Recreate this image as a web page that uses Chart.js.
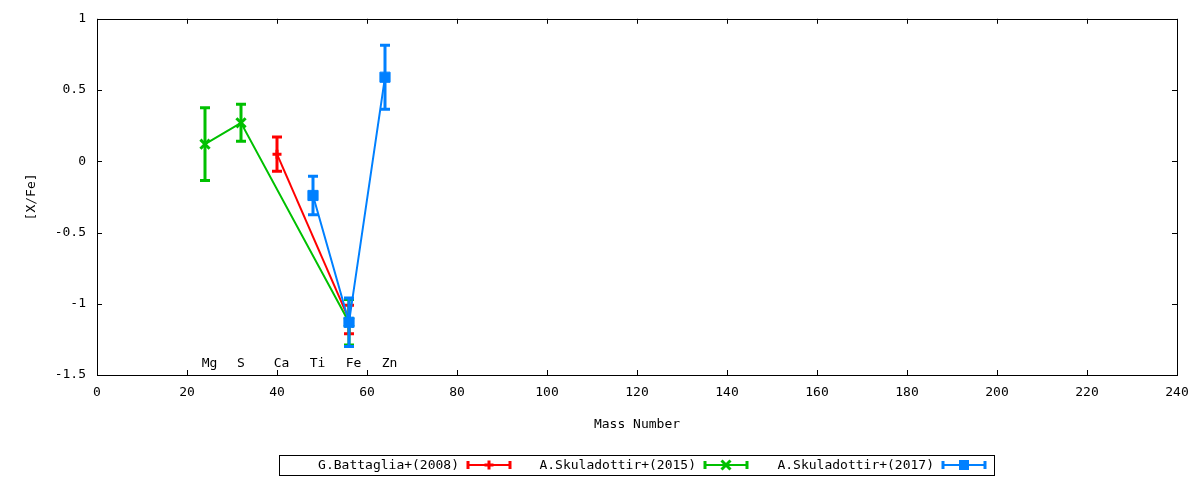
<!DOCTYPE html>
<html>
<head>
<meta charset="utf-8">
<script src="https://cdn.jsdelivr.net/npm/chart.js@4/dist/chart.umd.min.js"></script>
<style>
  html, body { margin: 0; padding: 0; background: #fff; }
  #wrap { width: 1200px; height: 480px; }
</style>
</head>
<body>
<div id="wrap"><canvas id="myChart" width="1200" height="480"></canvas></div>
<script>
// element labels placed along the bottom of the plot
const elementNames = ['Mg', 'S', 'Ca', 'Ti', 'Fe', 'Zn'];
const elementLabelX = [25, 32, 41, 49, 57, 65];
const elementLabelY = -1.42;

// G.Battaglia+(2008)
const battagliaX = [40, 56];
const battagliaY = [0.05, -1.11];
const battagliaErr = [0.12, 0.10];

// A.Skuladottir+(2015)
const skula15X = [24, 32, 56];
const skula15Y = [0.12, 0.27, -1.13];
const skula15Err = [0.255, 0.13, 0.16];

// A.Skuladottir+(2017)
const skula17X = [48, 56, 64];
const skula17Y = [-0.24, -1.13, 0.59];
const skula17Err = [0.135, 0.17, 0.225];

const seriesNames = ['G.Battaglia+(2008)', 'A.Skuladottir+(2015)', 'A.Skuladottir+(2017)'];
const seriesColors = ['#ff0000', '#00c000', '#0080ff'];
const seriesMarkers = ['cross', 'crossRot', 'rect'];

const FONT = 'DejaVu Sans Mono';
const markerRadius = { cross: 4.5, crossRot: 6.5, rect: 7.2 };

function toPoints(xs, ys, errs) {
    return xs.map((x, i) => ({ x: x, y: ys[i], err: errs[i] }));
}

function makeSet(i, xs, ys, errs) {
    return {
        label: seriesNames[i],
        data: toPoints(xs, ys, errs),
        showLine: true,
        borderColor: seriesColors[i],
        backgroundColor: seriesColors[i],
        borderWidth: 2,
        pointStyle: seriesMarkers[i],
        pointRadius: markerRadius[seriesMarkers[i]],
        pointBorderWidth: i === 2 ? 1 : 3,
        order: 3 - i
    };
}

function drawMarker(ctx, style, x, y, color) {
    ctx.save();
    ctx.strokeStyle = color;
    ctx.fillStyle = color;
    ctx.lineWidth = 3;
    ctx.beginPath();
    if (style === 'cross') {
        ctx.moveTo(x - 4.5, y); ctx.lineTo(x + 4.5, y);
        ctx.moveTo(x, y - 4.5); ctx.lineTo(x, y + 4.5);
        ctx.stroke();
    } else if (style === 'crossRot') {
        ctx.moveTo(x - 4.5, y - 4.5); ctx.lineTo(x + 4.5, y + 4.5);
        ctx.moveTo(x - 4.5, y + 4.5); ctx.lineTo(x + 4.5, y - 4.5);
        ctx.stroke();
    } else {
        ctx.fillRect(x - 5, y - 5, 10, 10);
    }
    ctx.restore();
}

// vertical error bars with caps, drawn under each dataset's markers
const errorBars = {
    id: 'errorBars',
    beforeDatasetDraw(chart, args) {
        const ctx = chart.ctx;
        const ds = chart.data.datasets[args.index];
        const xs = chart.scales.x, ys = chart.scales.y;
        ctx.save();
        ctx.strokeStyle = ds.borderColor;
        ctx.lineWidth = 3;
        ctx.lineCap = 'butt';
        ds.data.forEach(p => {
            const px = xs.getPixelForValue(p.x);
            const top = ys.getPixelForValue(p.y + p.err);
            const bot = ys.getPixelForValue(p.y - p.err);
            ctx.beginPath();
            ctx.moveTo(px, top); ctx.lineTo(px, bot);
            ctx.moveTo(px - 5, top); ctx.lineTo(px + 5, top);
            ctx.moveTo(px - 5, bot); ctx.lineTo(px + 5, bot);
            ctx.stroke();
        });
        ctx.restore();
    }
};

// gnuplot-like frame, mirrored inward ticks, element names and legend box
const frameAndLegend = {
    id: 'frameAndLegend',
    afterDraw(chart) {
        const ctx = chart.ctx;
        const a = chart.chartArea;
        const xs = chart.scales.x, ys = chart.scales.y;
        ctx.save();
        ctx.strokeStyle = '#000';
        ctx.lineWidth = 1;
        ctx.strokeRect(Math.round(a.left) + 0.5, Math.round(a.top) + 0.5, Math.round(a.right - a.left), Math.round(a.bottom - a.top));
        ctx.beginPath();
        xs.ticks.forEach(t => {
            const px = Math.round(xs.getPixelForValue(t.value)) + 0.5;
            ctx.moveTo(px, a.bottom); ctx.lineTo(px, a.bottom - 5);
            ctx.moveTo(px, a.top); ctx.lineTo(px, a.top + 5);
        });
        ys.ticks.forEach(t => {
            const py = Math.round(ys.getPixelForValue(t.value)) + 0.5;
            ctx.moveTo(a.left, py); ctx.lineTo(a.left + 5, py);
            ctx.moveTo(a.right, py); ctx.lineTo(a.right - 5, py);
        });
        ctx.stroke();

        ctx.fillStyle = '#000';
        ctx.font = '13px "' + FONT + '"';
        ctx.textAlign = 'center';
        ctx.textBaseline = 'middle';
        elementNames.forEach((n, i) => {
            ctx.fillText(n, xs.getPixelForValue(elementLabelX[i]), ys.getPixelForValue(elementLabelY));
        });

        // legend
        const boxL = 279, boxT = 455, boxR = 994, boxB = 475;
        ctx.strokeRect(boxL + 0.5, boxT + 0.5, boxR - boxL, boxB - boxT);
        const cy = (boxT + boxB) / 2;
        const textEnds = [459, 696, 934];
        ctx.textAlign = 'right';
        seriesNames.forEach((n, i) => {
            ctx.fillStyle = '#000';
            ctx.fillText(n, textEnds[i], cy + 1);
            const x1 = textEnds[i] + 8, x2 = x1 + 44;
            ctx.strokeStyle = seriesColors[i];
            ctx.lineWidth = 2;
            ctx.beginPath();
            ctx.moveTo(x1, cy); ctx.lineTo(x2, cy);
            ctx.stroke();
            ctx.lineWidth = 3;
            ctx.beginPath();
            ctx.moveTo(x1 + 1, cy - 4); ctx.lineTo(x1 + 1, cy + 4);
            ctx.moveTo(x2 - 1, cy - 4); ctx.lineTo(x2 - 1, cy + 4);
            ctx.stroke();
            drawMarker(ctx, seriesMarkers[i], (x1 + x2) / 2, cy, seriesColors[i]);
        });
        ctx.restore();
    }
};

const ctx = document.getElementById('myChart').getContext('2d');
const chart = new Chart(ctx, {
    type: 'scatter',
    data: {
        datasets: [
            makeSet(0, battagliaX, battagliaY, battagliaErr),
            makeSet(1, skula15X, skula15Y, skula15Err),
            makeSet(2, skula17X, skula17Y, skula17Err)
        ]
    },
    options: {
        responsive: false,
        animation: false,
        layout: { padding: { top: 18, right: 23, left: 0, bottom: 0 } },
        plugins: {
            legend: { display: false },
            tooltip: { enabled: false }
        },
        scales: {
            x: {
                type: 'linear',
                min: 0, max: 240,
                grid: { display: false, drawTicks: false },
                border: { display: false },
                ticks: { stepSize: 20, padding: 10, color: '#000', font: { family: FONT, size: 13 } },
                title: { display: true, text: 'Mass Number', color: '#000', font: { family: FONT, size: 13 }, padding: { top: 0, bottom: 48 } },
                afterFit: s => { s.height = 105; }
            },
            y: {
                type: 'linear',
                min: -1.5, max: 1,
                grid: { display: false, drawTicks: false },
                border: { display: false },
                ticks: { stepSize: 0.5, padding: 11, color: '#000', font: { family: FONT, size: 13 }, callback: v => String(v) },
                title: { display: true, text: '[X/Fe]', color: '#000', font: { family: FONT, size: 13 }, padding: { top: 24, bottom: 0 } },
                afterFit: s => { s.width = 97; }
            }
        }
    },
    plugins: [errorBars, frameAndLegend]
});
</script>
</body>
</html>
